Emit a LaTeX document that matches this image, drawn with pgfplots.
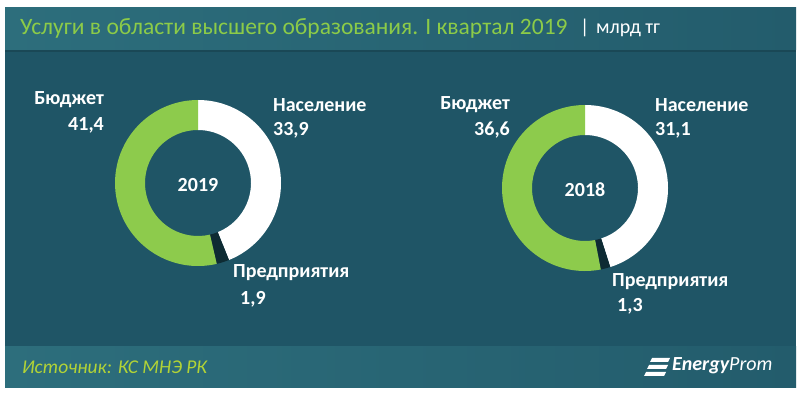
\documentclass[border=0pt]{standalone}
\usepackage{pgfplots}
\usepackage{pgfplotstable}
\pgfplotsset{compat=1.18}
\usepackage{fontspec}
\setmainfont{Carlito}
\definecolor{bgmain}{HTML}{1F5566}
\definecolor{barL}{HTML}{2D6E7C}
\definecolor{barR}{HTML}{235C6C}
\definecolor{ttlgreen}{HTML}{8CCB48}
\definecolor{srcgreen}{HTML}{B2D336}
\definecolor{piegreen}{HTML}{8DCB4C}
\definecolor{piedark}{HTML}{0E2B33}

\pgfplotstableread{
label value
Naselenie 33.9
Predpr 1.9
Budget 41.4
}\dataA
\pgfplotstableread{
label value
Naselenie 31.1
Predpr 1.3
Budget 36.6
}\dataB

\newcommand\seg[7]{% color, cx, cy, a1, a2, R, r
  \edef\tmp{\noexpand\fill[#1] ([shift={(#4:#6pt)}]axis cs:#2,#3) arc[start angle=#4,end angle=#5,radius=#6pt] -- ([shift={(#5:#7pt)}]axis cs:#2,#3) arc[start angle=#5,end angle=#4,radius=#7pt] -- cycle;}\tmp}

\newcommand\donut[3]{% cx, cy, table
  \pgfplotstablegetelem{0}{value}\of#3\let\va\pgfplotsretval
  \pgfplotstablegetelem{1}{value}\of#3\let\vb\pgfplotsretval
  \pgfplotstablegetelem{2}{value}\of#3\let\vc\pgfplotsretval
  \pgfmathsetmacro\tot{\va+\vb+\vc}
  \pgfmathsetmacro\aB{90-360*\va/\tot}
  \pgfmathsetmacro\aC{\aB-360*\vb/\tot}
  \seg{white}{#1}{#2}{90}{\aB}{83}{53}
  \seg{piedark}{#1}{#2}{\aB}{\aC}{83}{53}
  \seg{piegreen}{#1}{#2}{\aC}{-270}{83}{53}
}

\begin{document}
\begin{tikzpicture}
\begin{axis}[
  width=800pt, height=393pt, scale only axis,
  xmin=0, xmax=800, ymin=0, ymax=393,
  hide axis, clip=false,
]
% background
\fill[white] (axis cs:0,0) rectangle (axis cs:800,393);
\fill[bgmain] (axis cs:5,5) rectangle (axis cs:796,385);
\shade[left color=barL, right color=barR] (axis cs:5,343) rectangle (axis cs:796,385);
\shade[left color=barL, right color=barR] (axis cs:5,5) rectangle (axis cs:796,46);
\fill[black, opacity=0.15] (axis cs:5,341) rectangle (axis cs:796,343);

% donuts
\donut{198}{210}{\dataA}
\donut{585}{205}{\dataB}

% title
\node[anchor=west, text=ttlgreen, font=\fontsize{23.5}{26}\selectfont, inner sep=0pt] at (axis cs:20,365) {Услуги в области высшего образования. I квартал 2019};
\node[anchor=west, text=white, font=\fontsize{20}{24}\selectfont, inner sep=0pt] at (axis cs:580,365) {|\,\,млрд тг};

% labels
\tikzset{lab/.style={text=white, font=\fontsize{20}{24}\bfseries\selectfont, inner sep=0pt}}
\node[lab, anchor=east] at (axis cs:104,293) {Бюджет};
\node[lab, anchor=east] at (axis cs:104,268) {41,4};
\node[lab, anchor=west] at (axis cs:273,288) {Население};
\node[lab, anchor=west] at (axis cs:273,263) {33,9};
\node[lab, anchor=west] at (axis cs:233,120) {Предприятия};
\node[lab, anchor=west] at (axis cs:240,94) {1,9};
\node[lab] at (axis cs:198,208) {2019};

\node[lab, anchor=east] at (axis cs:510,288) {Бюджет};
\node[lab, anchor=east] at (axis cs:510,263) {36,6};
\node[lab, anchor=west] at (axis cs:655,288) {Население};
\node[lab, anchor=west] at (axis cs:655,263) {31,1};
\node[lab, anchor=west] at (axis cs:612,111) {Предприятия};
\node[lab, anchor=west] at (axis cs:617,87) {1,3};
\node[lab] at (axis cs:585,203) {2018};

% source
\node[anchor=west, text=srcgreen, font=\fontsize{19.5}{22}\itshape\selectfont, inner sep=0pt] at (axis cs:22,26) {Источник: КС МНЭ РК};
% logo
\fill[white] (axis cs:652,35) -- (axis cs:670,35) -- (axis cs:668,31) -- (axis cs:650,31) -- cycle;
\fill[white] (axis cs:649,28) -- (axis cs:668,28) -- (axis cs:666,24) -- (axis cs:647,24) -- cycle;
\fill[white] (axis cs:646,21) -- (axis cs:666,21) -- (axis cs:664,17) -- (axis cs:644,17) -- cycle;
\node[anchor=west, text=white, font=\fontsize{20}{22}\itshape\selectfont, inner sep=0pt] at (axis cs:672,27) {\textbf{Energy}Prom};
\end{axis}
\end{tikzpicture}
\end{document}
